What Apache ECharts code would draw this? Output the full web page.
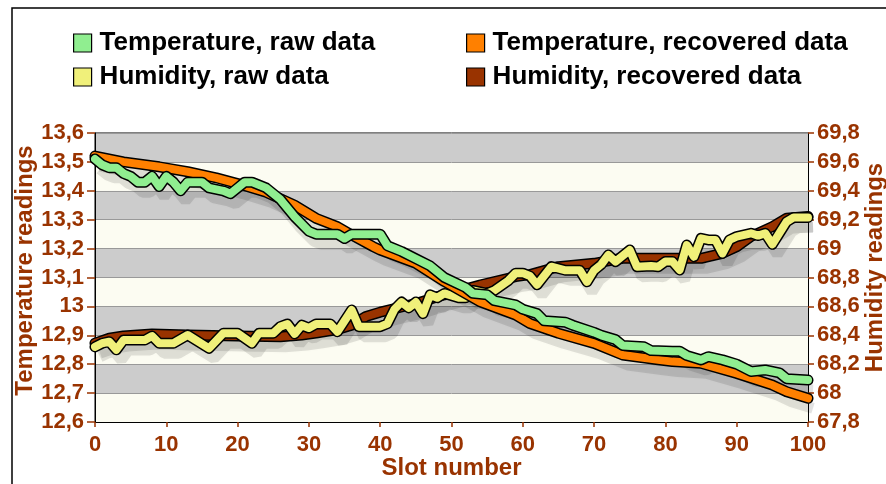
<!DOCTYPE html>
<html><head><meta charset="utf-8">
<script src="https://cdn.jsdelivr.net/npm/echarts@6/dist/echarts.min.js"></script>
<style>html,body{margin:0;padding:0;background:#fff}#c{width:886px;height:484px}</style>
</head><body><div id="c"></div>
<script>
// ---- data ----
const xTicks = [0,10,20,30,40,50,60,70,80,90,100];
const tempRawSlots = [0,1,2,3,4,5,6,7,8,9,10,11,12,13,15,16,18,19,20,21,22,24,26,28,30,31,34,35,36,40,41,43,45,47,49,52,53,55,56,59,60,62,63,66,67,70,71,73,74,77,78,81,82,83,85,86,88,90,92,94,96,97,100];
const tempRawVals  = [13.51,13.49,13.48,13.48,13.46,13.45,13.43,13.43,13.45,13.415,13.45,13.43,13.40,13.43,13.43,13.41,13.40,13.39,13.41,13.43,13.43,13.41,13.37,13.31,13.26,13.25,13.25,13.235,13.25,13.25,13.21,13.19,13.165,13.14,13.10,13.065,13.045,13.04,13.02,13.005,12.99,12.975,12.95,12.945,12.935,12.91,12.90,12.885,12.865,12.86,12.847,12.845,12.845,12.83,12.815,12.826,12.815,12.80,12.775,12.78,12.77,12.75,12.745];
const tempRecSlots = [0,4,9,13,17,20,24,28,31,34,36,39,40,45,49,54,59,61,65,70,74,79,81,85,90,95,97,100];
const tempRecVals  = [13.52,13.50,13.483,13.466,13.445,13.425,13.395,13.35,13.305,13.276,13.247,13.207,13.195,13.149,13.086,13.016,12.97,12.941,12.907,12.872,12.832,12.815,12.809,12.803,12.768,12.728,12.705,12.682];
const humRawSlots = [0,1,2,3,4,6,7,8,9,11,13,16,18,20,22,23,25,26,27,28,29,30,31,33,34,36,37,40,41,42,43,44,45,46,47,48,49,51,52,53,54,55,56,58,59,60,61,62,64,66,68,69,70,71,72,73,75,76,78,79,80,81,82,83,84,85,86,87,88,89,90,92,93,94,95,97,98,100];
const humRawVals  = [68.32,68.345,68.356,68.30,68.367,68.367,68.367,68.395,68.345,68.345,68.402,68.31,68.414,68.414,68.345,68.414,68.414,68.46,68.478,68.41,68.47,68.45,68.478,68.478,68.425,68.575,68.46,68.46,68.48,68.58,68.63,68.59,68.63,68.55,68.68,68.66,68.69,68.66,68.66,68.71,68.70,68.69,68.71,68.78,68.83,68.83,68.81,68.75,68.875,68.85,68.85,68.77,68.85,68.89,68.956,68.91,68.99,68.875,68.88,68.875,68.91,68.91,68.852,69.025,68.944,69.071,69.06,69.06,68.967,69.06,69.083,69.106,69.09,69.106,69.03,69.186,69.216,69.216];
const humRecSlots = [0,2,4,8,13,20,26,29,31,34,36,38,40,45,49,54,59,61,65,70,74,81,85,88,90,92,95,97,100];
const humRecVals  = [68.346,68.38,68.395,68.409,68.402,68.395,68.39,68.402,68.415,68.44,68.47,68.53,68.56,68.62,68.68,68.748,68.806,68.82,68.875,68.898,68.933,68.933,68.933,68.967,69.013,69.083,69.152,69.21,69.222];

const names = ['Temperature, raw data','Temperature, recovered data','Humidity, raw data','Humidity, recovered data'];
const colors = ['#90ee90','#ff8000','#f0f07a','#993300'];

const zip = (a,b)=>a.map((s,i)=>[s,b[i]]);
const sets = [
  {name:names[3], color:colors[3], data:zip(humRecSlots,humRecVals), y:1},
  {name:names[2], color:colors[2], data:zip(humRawSlots,humRawVals), y:1},
  {name:names[1], color:colors[1], data:zip(tempRecSlots,tempRecVals), y:0},
  {name:names[0], color:colors[0], data:zip(tempRawSlots,tempRawVals), y:0}
];

const brown = '#993300';
const F = 'Liberation Sans, Arial, sans-serif';
const fmt = (v)=>String(+v.toFixed(1)).replace('.',',');

const series = [];
// soft shadows in an offset grid
sets.forEach(s=>series.push({
  type:'line', name:'_sh_'+s.name, xAxisIndex:1, yAxisIndex:2+s.y, data:s.data,
  symbol:'none', silent:true, z:1,
  lineStyle:{color:'rgba(0,0,0,0.11)', width:11, shadowColor:'rgba(0,0,0,0.12)', shadowBlur:6},
  emphasis:{disabled:true}
}));
sets.forEach((s,i)=>{
  series.push({
    type:'line', name:'_ol_'+s.name, xAxisIndex:0, yAxisIndex:s.y, data:s.data,
    symbol:'none', silent:true, z:3+i*2, lineStyle:{color:'#000', width:11, join:'round', cap:'round'},
    emphasis:{disabled:true}
  });
  series.push({
    type:'line', name:s.name, xAxisIndex:0, yAxisIndex:s.y, data:s.data,
    symbol:'none', silent:true, z:4+i*2, itemStyle:{color:s.color},
    lineStyle:{color:s.color, width:8, join:'round', cap:'round'},
    emphasis:{disabled:true}
  });
});

const legendCommon = {
  orient:'vertical', icon:'rect', itemWidth:18, itemHeight:18, itemGap:8,
  itemStyle:{borderColor:'#000', borderWidth:1.2},
  textStyle:{fontFamily:F, fontWeight:'bold', fontSize:26, lineHeight:26, color:'#000', padding:[0,0,0,3]},
  selectedMode:false
};

const option = {
  animation:false,
  backgroundColor:'#fff',
  graphic:[{type:'rect', shape:{x:12, y:8, width:900, height:500}, style:{fill:'none', stroke:'#000', lineWidth:1.5}, z:-1}],
  legend:[
    Object.assign({left:68, top:25, data:[names[0], names[2]]}, legendCommon),
    Object.assign({left:461, top:25, data:[names[1], names[3]]}, legendCommon)
  ],
  grid:[
    {left:95, right:78, top:133, bottom:62, show:true, borderColor:'#000', borderWidth:1, backgroundColor:'transparent', z:0, containLabel:false, outerBoundsMode:'none'},
    {left:100, right:73, top:143, bottom:52, show:false, containLabel:false, outerBoundsMode:'none'}
  ],
  xAxis:[
    {type:'value', gridIndex:0, min:0, max:100, interval:10,
     name:'Slot number', nameLocation:'middle', nameGap:34, nameMoveOverlap:false,
     nameTextStyle:{fontFamily:F, fontWeight:'bold', fontSize:24, lineHeight:24, color:brown},
     axisLine:{lineStyle:{color:'#000'}}, axisTick:{lineStyle:{color:brown, width:1.5}, length:5},
     axisLabel:{fontFamily:F, fontWeight:'bold', fontSize:22, color:brown, margin:12},
     splitLine:{show:false}},
    {type:'value', gridIndex:1, min:0, max:100, show:false}
  ],
  yAxis:[
    {type:'value', gridIndex:0, min:12.6, max:13.6, interval:0.1, position:'left',
     name:'Temperature readings', nameLocation:'middle', nameGap:58, nameRotate:90, nameMoveOverlap:false,
     nameTextStyle:{fontFamily:F, fontWeight:'bold', fontSize:24, lineHeight:24, color:brown, padding:[0,0,0,14]},
     axisLine:{show:true, lineStyle:{color:'#000'}}, axisTick:{show:true, lineStyle:{color:brown, width:1.5}, length:8},
     axisLabel:{fontFamily:F, fontWeight:'bold', fontSize:22, color:brown, margin:11, formatter:fmt},
     splitLine:{show:true, lineStyle:{color:'#999', width:1}},
     splitArea:{show:true, areaStyle:{color:['#fcfcf2','#cccccc']}}},
    {type:'value', gridIndex:0, min:67.8, max:69.8, interval:0.2, position:'right',
     name:'Humidity readings', nameLocation:'middle', nameGap:55, nameRotate:90, nameMoveOverlap:false,
     nameTextStyle:{fontFamily:F, fontWeight:'bold', fontSize:24, lineHeight:24, color:brown, padding:[0,0,0,20]},
     axisLine:{show:true, lineStyle:{color:'#000'}}, axisTick:{show:true, lineStyle:{color:brown, width:1.5}, length:6},
     axisLabel:{fontFamily:F, fontWeight:'bold', fontSize:22, color:brown, margin:9, formatter:fmt},
     splitLine:{show:false}, splitArea:{show:false}},
    {type:'value', gridIndex:1, min:12.6, max:13.6, show:false},
    {type:'value', gridIndex:1, min:67.8, max:69.8, show:false}
  ],
  series:series
};
const chart = echarts.init(document.getElementById('c'), null, {renderer:'canvas'});
chart.setOption(option);
</script></body></html>
